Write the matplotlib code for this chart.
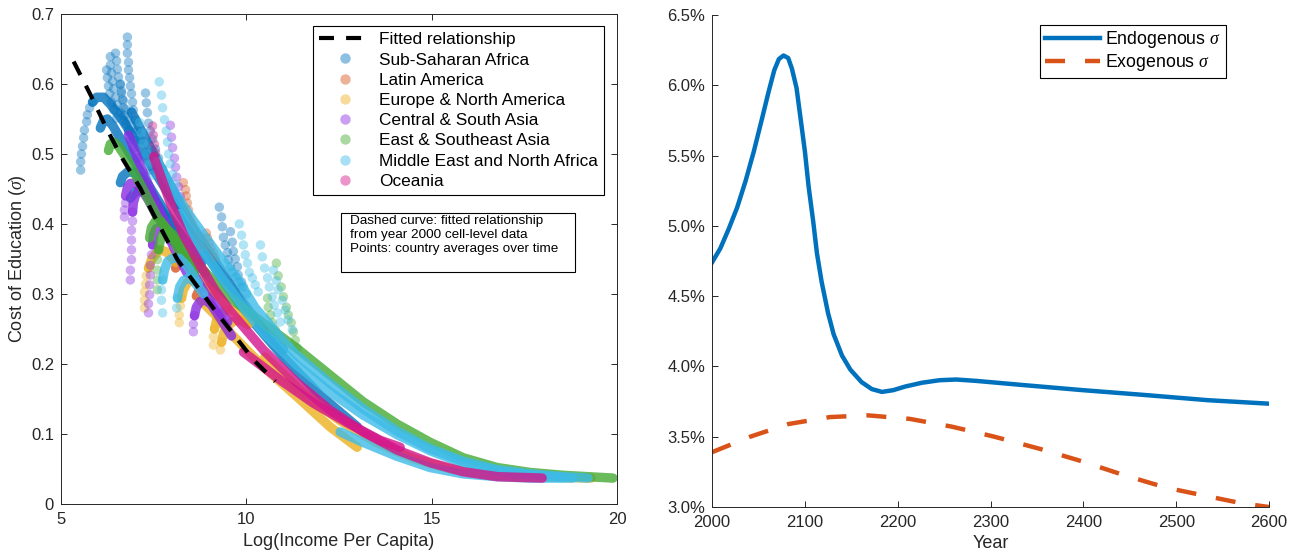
import matplotlib
matplotlib.use('Agg')
import matplotlib.pyplot as plt
from matplotlib.lines import Line2D
from matplotlib.patches import Rectangle

plt.rcParams['font.family'] = ['Liberation Sans', 'DejaVu Sans']
plt.rcParams['mathtext.fontset'] = 'custom'
plt.rcParams['mathtext.it'] = 'Liberation Serif:italic'
plt.rcParams['mathtext.rm'] = 'Liberation Sans'

# ---------------- Left panel data ----------------
region_names = ['Sub-Saharan Africa', 'Latin America', 'Europe & North America',
                'Central & South Asia', 'East & Southeast Asia',
                'Middle East and North Africa', 'Oceania']
region_colors = ['#0072BD', '#D95319', '#EDB120', '#8A2BE2', '#44AA33', '#3DBCE8', '#D4148C']

fit_x = [5.34, 5.80, 6.25, 6.66, 7.14, 7.47, 8.14, 9.16, 10.19, 10.78]
fit_y = [0.632, 0.584, 0.534, 0.493, 0.451, 0.416, 0.349, 0.276, 0.206, 0.175]

# sparse point chains (x list, y list)
ssa_dots = [
    ([5.53, 5.53, 5.55, 5.58, 5.61, 5.63, 5.69, 5.71, 5.77, 5.85],
     [0.477, 0.489, 0.500, 0.511, 0.523, 0.534, 0.546, 0.556, 0.566, 0.574]),
    ([6.79, 6.79, 6.79, 6.82, 6.82, 6.85, 6.87, 6.90, 6.93, 6.95, 7.01, 7.06, 7.14, 7.28, 7.41],
     [0.667, 0.656, 0.644, 0.631, 0.620, 0.609, 0.597, 0.586, 0.574, 0.563, 0.549, 0.534, 0.520, 0.499, 0.477]),
    ([6.33, 6.33, 6.36, 6.39, 6.42, 6.47, 6.52, 6.60, 6.71, 6.82, 6.95],
     [0.639, 0.627, 0.616, 0.604, 0.593, 0.581, 0.570, 0.559, 0.547, 0.534, 0.520]),
    ([6.47, 6.50, 6.52, 6.55, 6.60, 6.63, 6.68, 6.74, 6.82, 6.90, 7.01],
     [0.644, 0.633, 0.621, 0.610, 0.599, 0.587, 0.576, 0.564, 0.553, 0.541, 0.530]),
    ([6.23, 6.25, 6.28, 6.31, 6.36, 6.42, 6.50],
     [0.620, 0.609, 0.597, 0.586, 0.574, 0.563, 0.551]),
    ([6.60, 6.63, 6.66, 6.68, 6.71, 6.76, 6.82, 6.87, 6.95, 7.06],
     [0.600, 0.590, 0.578, 0.566, 0.555, 0.543, 0.532, 0.520, 0.508, 0.494]),
    ([7.28, 7.30, 7.33, 7.36, 7.41, 7.47, 7.55, 7.63, 7.74],
     [0.587, 0.573, 0.559, 0.544, 0.533, 0.521, 0.507, 0.494, 0.479]),
    ([9.27, 9.33, 9.35, 9.38, 9.43, 9.49, 9.51, 9.57, 9.62, 9.70, 9.78, 9.86],
     [0.424, 0.410, 0.396, 0.381, 0.370, 0.359, 0.349, 0.339, 0.331, 0.324, 0.317, 0.310]),
    ([9.57, 9.62, 9.65, 9.70, 9.76, 9.78, 9.87, 9.92, 10.0],
     [0.389, 0.374, 0.361, 0.350, 0.339, 0.327, 0.317, 0.310, 0.300]),
]
ssa_lines = [
    ([5.85, 5.96, 6.15, 6.33, 6.60, 7.01, 7.41, 7.82, 8.22, 8.76, 9.43, 10.11, 11.0, 12.0, 13.0],
     [0.574, 0.581, 0.581, 0.571, 0.553, 0.520, 0.485, 0.450, 0.415, 0.370, 0.315, 0.265, 0.210, 0.155, 0.110]),
    ([6.06, 6.15, 6.25, 6.40, 6.60, 7.0, 7.4, 7.8, 8.3, 8.8],
     [0.537, 0.548, 0.550, 0.540, 0.522, 0.488, 0.452, 0.418, 0.380, 0.345]),
    ([6.9, 7.2, 7.6, 8.0, 8.5, 9.0, 9.6, 10.3, 11.0],
     [0.56, 0.53, 0.49, 0.45, 0.40, 0.36, 0.31, 0.26, 0.22]),
    ([6.60, 6.66, 6.79, 6.95, 7.14, 7.41, 7.8],
     [0.459, 0.468, 0.474, 0.474, 0.466, 0.446, 0.41]),
    ([6.87, 7.01, 7.2, 7.41, 7.7, 8.1],
     [0.437, 0.446, 0.449, 0.44, 0.42, 0.39]),
]

lat_dots = [
    ([8.30, 8.36, 8.38, 8.41, 8.44, 8.49, 8.54, 8.60, 8.68, 8.76, 8.84],
     [0.459, 0.449, 0.440, 0.430, 0.420, 0.410, 0.401, 0.392, 0.383, 0.375, 0.367]),
    ([8.92, 8.95, 9.0, 9.05, 9.11, 9.16],
     [0.387, 0.380, 0.373, 0.366, 0.359, 0.352]),
]
lat_lines = [
    ([8.09, 8.17, 8.30, 8.49, 8.68, 8.89], [0.337, 0.347, 0.351, 0.351, 0.344, 0.331]),
    ([8.65, 8.73, 8.87, 9.03, 9.19], [0.297, 0.306, 0.310, 0.306, 0.297]),
]

eur_dots = [
    ([7.25, 7.25, 7.25, 7.28, 7.30, 7.36], [0.280, 0.291, 0.303, 0.314, 0.326, 0.337]),
    ([8.19, 8.19, 8.22, 8.25], [0.259, 0.270, 0.283, 0.294]),
    ([9.11, 9.11, 9.14], [0.227, 0.239, 0.250]),
    ([9.30, 9.33], [0.220, 0.231]),
]
eur_lines = [
    ([7.36, 7.44, 7.55, 7.68, 7.85, 8.1], [0.337, 0.349, 0.357, 0.363, 0.36, 0.345]),
    ([8.25, 8.30, 8.41, 8.57, 8.76, 8.95, 9.16, 9.5],
     [0.294, 0.306, 0.316, 0.321, 0.320, 0.313, 0.303, 0.28]),
    ([9.14, 9.19, 9.30, 9.46, 9.62, 9.84, 10.11], [0.250, 0.261, 0.271, 0.277, 0.277, 0.270, 0.259]),
    ([9.33, 9.38, 9.49, 9.65, 9.84, 10.05], [0.231, 0.243, 0.254, 0.261, 0.263, 0.256]),
    ([8.76, 9.16, 9.57, 10.46, 11.37, 12.26, 12.99], [0.291, 0.270, 0.244, 0.196, 0.153, 0.110, 0.081]),
    ([10.5, 11.5, 12.5, 13.5, 14.5, 15.5, 16.5, 17.5, 18.5, 19.3],
     [0.21, 0.16, 0.12, 0.088, 0.065, 0.05, 0.042, 0.039, 0.038, 0.037]),
]

csa_dots = [
    ([7.95, 7.98, 8.01, 8.06, 8.09, 8.12, 8.17, 8.22], [0.541, 0.524, 0.509, 0.494, 0.481, 0.467, 0.453, 0.439]),
    ([6.87, 6.87, 6.90, 6.90, 6.90, 6.90, 6.93, 6.93], [0.320, 0.334, 0.349, 0.363, 0.377, 0.391, 0.404, 0.417]),
    ([7.36, 7.36, 7.39, 7.39, 7.41, 7.41, 7.44, 7.47], [0.273, 0.286, 0.299, 0.313, 0.327, 0.341, 0.356, 0.370]),
    ([8.57, 8.57, 8.60], [0.246, 0.257, 0.269]),
    ([6.71, 6.71, 6.74], [0.41, 0.42, 0.43]),
]
csa_lines = [
    ([6.93, 6.95, 7.01, 7.14, 7.28, 7.47, 7.7, 8.0], [0.417, 0.430, 0.441, 0.449, 0.446, 0.430, 0.405, 0.375]),
    ([7.47, 7.50, 7.57, 7.70, 7.85, 8.1, 8.4], [0.370, 0.385, 0.393, 0.396, 0.388, 0.36, 0.33]),
    ([8.60, 8.65, 8.76, 8.90, 9.05, 9.3, 9.6], [0.269, 0.281, 0.290, 0.291, 0.285, 0.265, 0.24]),
    ([6.82, 6.95, 7.14, 7.41, 7.74, 8.01, 8.4, 8.9, 9.5], [0.527, 0.51, 0.483, 0.449, 0.41, 0.381, 0.345, 0.30, 0.26]),
    ([6.74, 6.79, 6.87, 7.0, 7.14, 7.35, 7.6], [0.44, 0.452, 0.458, 0.458, 0.452, 0.435, 0.41]),
]

esa_dots = [
    ([10.81, 10.86, 10.94, 11.0, 11.08, 11.13, 11.21, 11.27, 11.32, 11.37],
     [0.344, 0.326, 0.310, 0.296, 0.281, 0.270, 0.259, 0.246, 0.234, 0.223]),
    ([10.57, 10.59, 10.65, 10.70, 10.78], [0.294, 0.281, 0.270, 0.259, 0.249]),
    ([7.60, 7.60, 7.60, 7.60, 7.63], [0.306, 0.320, 0.334, 0.349, 0.363]),
]
esa_lines = [
    ([6.28, 6.33, 6.42, 6.55, 6.74, 7.01, 7.28, 7.6, 8.01, 8.5, 9.0, 9.6, 10.46, 11.37, 12.26,
      13.15, 14.07, 14.96, 15.85, 16.77, 17.66, 18.54, 19.89],
     [0.505, 0.514, 0.517, 0.511, 0.496, 0.47, 0.443, 0.41, 0.381, 0.352, 0.325, 0.293, 0.258, 0.222, 0.184,
      0.146, 0.114, 0.088, 0.066, 0.052, 0.045, 0.041, 0.037]),
    ([7.63, 7.68, 7.76, 7.9, 8.06, 8.3, 8.6], [0.363, 0.377, 0.387, 0.39, 0.383, 0.36, 0.33]),
    ([7.39, 7.44, 7.55, 7.7, 7.9, 8.2], [0.38, 0.395, 0.404, 0.403, 0.39, 0.36]),
]

mena_dots = [
    ([7.65, 7.71, 7.74, 7.79, 7.84, 7.87, 7.90, 7.95, 8.01, 8.09],
     [0.603, 0.584, 0.566, 0.549, 0.533, 0.517, 0.500, 0.486, 0.471, 0.457]),
    ([9.81, 9.87, 9.92, 9.97, 10.03, 10.08, 10.16, 10.24, 10.32],
     [0.400, 0.384, 0.370, 0.356, 0.344, 0.331, 0.323, 0.313, 0.303]),
    ([10.38, 10.43, 10.49, 10.57, 10.62, 10.70, 10.75, 10.84, 10.92],
     [0.370, 0.353, 0.337, 0.323, 0.310, 0.296, 0.284, 0.273, 0.260]),
    ([10.73, 10.81, 10.86, 10.97, 11.05, 11.13, 11.24], [0.334, 0.319, 0.306, 0.291, 0.277, 0.263, 0.249]),
    ([7.74, 7.71, 7.71, 7.74], [0.273, 0.291, 0.306, 0.320]),
    ([8.12, 8.14], [0.28, 0.294]),
    ([7.12, 7.17, 7.22, 7.30, 7.38, 7.47], [0.545, 0.530, 0.515, 0.500, 0.485, 0.470]),
]
mena_lines = [
    ([7.74, 7.79, 7.87, 8.0, 8.19, 8.4, 8.7], [0.320, 0.334, 0.346, 0.351, 0.351, 0.34, 0.315]),
    ([8.14, 8.2, 8.3, 8.45, 8.6, 8.85], [0.294, 0.31, 0.319, 0.323, 0.317, 0.30]),
    ([7.6, 8.0, 8.5, 8.84, 9.3, 9.76, 10.24, 10.65, 11.0, 11.37, 12.26, 13.15, 14.07, 14.96, 15.85,
      16.77, 17.66, 18.54, 19.22],
     [0.49, 0.45, 0.41, 0.385, 0.352, 0.322, 0.28, 0.255, 0.232, 0.212, 0.172, 0.136, 0.104, 0.079, 0.061,
      0.049, 0.043, 0.039, 0.037]),
    ([8.2, 8.8, 9.4, 10.0, 10.46, 11.37, 12.26, 13.15, 14.07, 14.96, 15.85, 16.77, 17.66, 18.5],
     [0.415, 0.365, 0.318, 0.275, 0.245, 0.198, 0.16, 0.127, 0.099, 0.076, 0.058, 0.047, 0.041, 0.038]),
    ([12.53, 13.15, 14.07, 14.96, 15.85, 16.77, 17.66, 18.8],
     [0.103, 0.088, 0.068, 0.052, 0.043, 0.039, 0.037, 0.037]),
]

oce_dots = [
    ([7.47, 7.49, 7.52, 7.55], [0.54, 0.527, 0.514, 0.502]),
]
oce_lines = [
    ([7.50, 7.95, 8.30, 8.76, 9.16, 9.57, 10.46, 11.37, 12.26, 13.15, 14.07, 14.96, 15.85, 16.77, 17.98],
     [0.496, 0.43, 0.385, 0.34, 0.305, 0.275, 0.22, 0.173, 0.134, 0.103, 0.077, 0.059, 0.046, 0.039, 0.037]),
    ([9.92, 10.92, 11.81, 12.72, 13.61, 14.15], [0.217, 0.177, 0.144, 0.116, 0.091, 0.081]),
]

region_dots = [ssa_dots, lat_dots, eur_dots, csa_dots, esa_dots, mena_dots, oce_dots]
region_lines = [ssa_lines, lat_lines, eur_lines, csa_lines, esa_lines, mena_lines, oce_lines]

left_xticks = [5, 10, 15, 20]
left_yticks = [0, 0.1, 0.2, 0.3, 0.4, 0.5, 0.6, 0.7]
left_yticklabels = ['0', '0.1', '0.2', '0.3', '0.4', '0.5', '0.6', '0.7']

# ---------------- Right panel data ----------------
endo_year = [2000, 2009, 2018, 2027, 2036, 2045, 2054, 2061, 2067, 2072, 2077, 2082, 2086, 2091, 2095,
             2100, 2104, 2109, 2113, 2118, 2125, 2131, 2140, 2149, 2161, 2172, 2183, 2195, 2208, 2226,
             2245, 2263, 2285, 2331, 2398, 2466, 2534, 2600]
endo_val = [4.74, 4.841, 4.979, 5.130, 5.317, 5.530, 5.768, 5.956, 6.107, 6.187, 6.212, 6.194, 6.119, 5.981,
            5.781, 5.530, 5.280, 5.029, 4.804, 4.603, 4.378, 4.228, 4.077, 3.977, 3.889, 3.839, 3.819, 3.831,
            3.857, 3.884, 3.902, 3.907, 3.897, 3.87, 3.832, 3.797, 3.76, 3.735]
exo_year = [2000, 2041, 2082, 2127, 2168, 2213, 2258, 2303, 2353, 2398, 2444, 2489, 2534, 2571, 2600]
exo_val = [3.39, 3.50, 3.59, 3.64, 3.652, 3.627, 3.572, 3.502, 3.414, 3.326, 3.226, 3.138, 3.076, 3.026, 3.0]
right_xticks = [2000, 2100, 2200, 2300, 2400, 2500, 2600]
right_yticks = [3.0, 3.5, 4.0, 4.5, 5.0, 5.5, 6.0, 6.5]

axis_color = '#262626'

fig = plt.figure(figsize=(13.07, 5.54), dpi=100)
ax1 = fig.add_axes([0.0467, 0.0903, 0.4254, 0.8845])
ax2 = fig.add_axes([0.5448, 0.0848, 0.4262, 0.8881])

LW = 6.8
for name, col, dots, lines in zip(region_names, region_colors, region_dots, region_lines):
    for xs, ys in lines:
        ax1.plot(xs, ys, color=col, lw=LW, alpha=0.8, solid_capstyle='round',
                 solid_joinstyle='round', zorder=2)
    for xs, ys in dots:
        ax1.scatter(xs, ys, s=LW ** 2, color=col, alpha=0.4, edgecolors='none', zorder=2)

ax1.plot(fit_x, fit_y, color='black', lw=3, dashes=(3.6, 2.9), zorder=5)

ax1.set_xlim(5, 20)
ax1.set_ylim(0, 0.7)
ax1.set_xticks(left_xticks)
ax1.set_yticks(left_yticks)
ax1.set_yticklabels(left_yticklabels)
ax1.tick_params(direction='in', top=True, right=True, length=4.3, width=0.7,
                labelsize=12, colors=axis_color)
ax1.tick_params(axis='x', pad=6)
ax1.tick_params(axis='y', pad=5)
for sp in ax1.spines.values():
    sp.set_color(axis_color)
    sp.set_linewidth(0.7)
ax1.set_xlabel('Log(Income Per Capita)', fontsize=13, color=axis_color, labelpad=4)
ax1.set_ylabel(r'Cost of Education ($\sigma$)', fontsize=13, color=axis_color, labelpad=2)

handles = [Line2D([0], [0], color='black', lw=3, dashes=(3.6, 2.9))]
for col in region_colors:
    handles.append(Line2D([0], [0], ls='none', marker='o', markersize=7.5,
                          markerfacecolor=col, markeredgecolor='none', alpha=0.45))
leg1 = ax1.legend(handles, ['Fitted relationship'] + region_names, loc='upper right',
                  bbox_to_anchor=(0.977, 0.975), fontsize=12.4, frameon=True, fancybox=False,
                  edgecolor='black', framealpha=1, handlelength=3.0, handletextpad=0.5,
                  labelspacing=0.3, borderpad=0.35, borderaxespad=0)
leg1.get_frame().set_linewidth(0.8)

ax1.add_patch(Rectangle((0.5036, 0.4735), 0.421, 0.1204, transform=ax1.transAxes,
                        facecolor='white', edgecolor='black', lw=0.8, zorder=6))
ax1.text(0.519, 0.589, 'Dashed curve: fitted relationship\nfrom year 2000 cell-level data\nPoints: country averages over time',
         transform=ax1.transAxes, fontsize=9.7, va='top', ha='left', linespacing=1.2, zorder=7)

# Right panel
ax2.plot(endo_year, endo_val, color='#0072BD', lw=3.2, label=r'Endogenous $\sigma$',
         solid_joinstyle='round')
ax2.plot(exo_year, exo_val, color='#D95319', lw=3.2, dashes=(4.5, 4.5), label=r'Exogenous $\sigma$')
ax2.set_xlim(2000, 2600)
ax2.set_ylim(3.0, 6.5)
ax2.set_xticks(right_xticks)
ax2.set_yticks(right_yticks)
ax2.set_yticklabels([f'{v:.1f}%' for v in right_yticks])
ax2.spines['top'].set_visible(False)
ax2.spines['right'].set_visible(False)
for sp in ('left', 'bottom'):
    ax2.spines[sp].set_color(axis_color)
    ax2.spines[sp].set_linewidth(0.7)
ax2.tick_params(direction='in', length=4.3, width=0.7, labelsize=12, colors=axis_color)
ax2.tick_params(axis='x', pad=6)
ax2.tick_params(axis='y', pad=5)
ax2.set_xlabel('Year', fontsize=13, color=axis_color, labelpad=3)
leg2 = ax2.legend(loc='upper right', bbox_to_anchor=(0.922, 0.98), fontsize=12.8, frameon=True,
                  fancybox=False, edgecolor='black', framealpha=1, handlelength=3.1,
                  handletextpad=0.3, labelspacing=0.12, borderpad=0.25, borderaxespad=0)
leg2.get_frame().set_linewidth(0.8)

fig.savefig('out.png', dpi=100)
